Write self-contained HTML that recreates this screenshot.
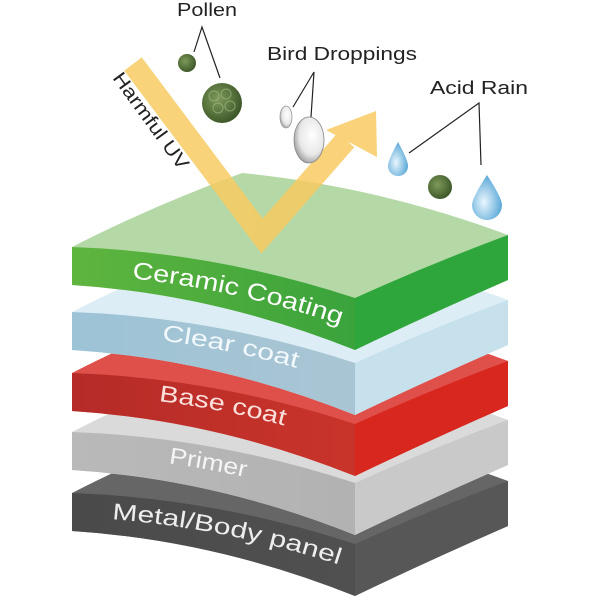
<!DOCTYPE html>
<html><head><meta charset="utf-8"><style>
html,body{margin:0;padding:0;background:#fff;width:600px;height:600px;overflow:hidden}
svg{display:block}
text{font-family:"Liberation Sans",sans-serif}
</style></head><body>
<svg width="600" height="600" viewBox="0 0 600 600" xmlns="http://www.w3.org/2000/svg">
<defs>
<linearGradient id="gF" x1="0" x2="1"><stop offset="0" stop-color="#5fb53e"/><stop offset="1" stop-color="#3aa33c"/></linearGradient>
<linearGradient id="cF" x1="0" x2="1"><stop offset="0" stop-color="#9dc3d6"/><stop offset="1" stop-color="#a9c5d3"/></linearGradient>
<linearGradient id="rF" x1="0" x2="1"><stop offset="0" stop-color="#b52b28"/><stop offset="1" stop-color="#c9342a"/></linearGradient>
<linearGradient id="pF" x1="0" x2="1"><stop offset="0" stop-color="#b9b9b9"/><stop offset="1" stop-color="#b2b2b2"/></linearGradient>
<linearGradient id="mF" x1="0" x2="1"><stop offset="0" stop-color="#4a4a4a"/><stop offset="1" stop-color="#505050"/></linearGradient>
<radialGradient id="pol" cx="0.4" cy="0.4" r="0.6"><stop offset="0" stop-color="#7f9a5a"/><stop offset="1" stop-color="#3f5a2a"/></radialGradient>
<radialGradient id="drop" cx="0.4" cy="0.6" r="0.6"><stop offset="0" stop-color="#eaf6fd"/><stop offset="1" stop-color="#5aa8d8"/></radialGradient>
<radialGradient id="egg" cx="0.6" cy="0.4" r="0.7"><stop offset="0" stop-color="#ffffff"/><stop offset="0.6" stop-color="#e8e8e8"/><stop offset="1" stop-color="#8a8a8a"/></radialGradient>
</defs>

<!-- layers drawn bottom first -->
<!-- Metal L=493 -->
<g>
<path d="M72,493 Q150,453 242,419 Q380,433 508,481 L508,526 Q430,560 355,596 Q215,540 72,531 Z" fill="#666"/>
<path d="M72,493 Q215,498 355,544 L355,596 Q215,540 72,531 Z" fill="url(#mF)"/>
<path d="M355,544 Q430,510 508,481 L508,526 Q430,560 355,596 Z" fill="#575757"/>
</g>
<!-- Primer L=432 -->
<g>
<path d="M72,432 Q150,392 242,358 Q380,372 508,420 L508,465 Q430,499 355,535 Q215,479 72,470 Z" fill="#dadada"/>
<path d="M72,432 Q215,437 355,483 L355,535 Q215,479 72,470 Z" fill="url(#pF)"/>
<path d="M355,483 Q430,449 508,420 L508,465 Q430,499 355,535 Z" fill="#c9c9c9"/>
</g>
<!-- Base L=373 -->
<g>
<path d="M72,373 Q150,333 242,299 Q380,313 508,361 L508,406 Q430,440 355,476 Q215,420 72,411 Z" fill="#e0504b"/>
<path d="M72,373 Q215,378 355,424 L355,476 Q215,420 72,411 Z" fill="url(#rF)"/>
<path d="M355,424 Q430,390 508,361 L508,406 Q430,440 355,476 Z" fill="#d8271e"/>
</g>
<!-- Clear L=312 -->
<g>
<path d="M72,312 Q150,272 242,238 Q380,252 508,300 L508,345 Q430,379 355,415 Q215,359 72,350 Z" fill="#dcedf5"/>
<path d="M72,312 Q215,317 355,363 L355,415 Q215,359 72,350 Z" fill="url(#cF)"/>
<path d="M355,363 Q430,329 508,300 L508,345 Q430,379 355,415 Z" fill="#c6e0ec"/>
</g>
<!-- Green L=247 -->
<g>
<path d="M72,247 Q150,207 242,173 Q380,187 508,235 L508,280 Q430,314 355,350 Q215,294 72,285 Z" fill="#b4d8a6"/>
<path d="M72,247 Q215,252 355,298 L355,350 Q215,294 72,285 Z" fill="url(#gF)"/>
<path d="M355,298 Q430,264 508,235 L508,280 Q430,314 355,350 Z" fill="#2fa63b"/>
</g>

<!-- UV arrow -->
<g opacity="0.85" fill="#f8cb63">
<polyline points="133,64 262,236 346,140" fill="none" stroke="#f8cb63" stroke-width="22" stroke-linejoin="miter"/>
<polygon points="326,130 376,111 377,157"/>
</g>

<!-- layer texts -->
<g fill="#fff">
<path id="t1" d="M72,274 Q215,280 355,330" fill="none"/>
<text font-size="24"><textPath href="#t1" startOffset="60" textLength="214" lengthAdjust="spacingAndGlyphs">Ceramic Coating</textPath></text>
<path id="t2" d="M72,333 Q215,338 355,386" fill="none"/>
<text font-size="23" fill="#f2f8fb"><textPath href="#t2" startOffset="90" textLength="138" lengthAdjust="spacingAndGlyphs">Clear coat</textPath></text>
<path id="t3" d="M72,394 Q215,399 355,447" fill="none"/>
<text font-size="23" fill="#fbe0dc"><textPath href="#t3" startOffset="87" textLength="128" lengthAdjust="spacingAndGlyphs">Base coat</textPath></text>
<path id="t4" d="M72,455 Q215,460 355,508" fill="none"/>
<text font-size="23" fill="#f5f5f5"><textPath href="#t4" startOffset="97" textLength="78" lengthAdjust="spacingAndGlyphs">Primer</textPath></text>
<path id="t5" d="M72,517 Q215,522 355,570" fill="none"/>
<text font-size="23" fill="#eee"><textPath href="#t5" startOffset="40" textLength="232" lengthAdjust="spacingAndGlyphs">Metal/Body panel</textPath></text>
</g>

<!-- labels -->
<g font-size="18" fill="#222">
<text x="177" y="16" textLength="60" lengthAdjust="spacingAndGlyphs">Pollen</text>
<text x="267" y="60" textLength="150" lengthAdjust="spacingAndGlyphs">Bird Droppings</text>
<text x="430" y="94" textLength="98" lengthAdjust="spacingAndGlyphs">Acid Rain</text>
<text x="0" y="0" font-size="19" textLength="115" lengthAdjust="spacingAndGlyphs" transform="translate(112,78) rotate(54)">Harmful UV</text>
</g>
<g stroke="#222" stroke-width="1.2" fill="none">
<polyline points="194,52 202,27 220,78"/>
<polyline points="293,107 314,72 311,117"/>
<polyline points="409,153 479,103 481,165"/>
</g>

<!-- pollen -->
<circle cx="187" cy="63" r="9" fill="url(#pol)"/>
<circle cx="222" cy="103" r="20" fill="url(#pol)"/>
<g stroke="#9fb784" stroke-width="1" fill="none" opacity="0.7">
<circle cx="214" cy="96" r="5"/><circle cx="226" cy="94" r="5"/><circle cx="218" cy="108" r="5"/><circle cx="230" cy="106" r="5"/>
</g>
<circle cx="440" cy="187" r="12" fill="url(#pol)"/>
<!-- droppings -->
<ellipse cx="286" cy="117" rx="6" ry="11" fill="url(#egg)" stroke="#999" stroke-width="0.8"/>
<ellipse cx="309" cy="140" rx="15" ry="23" fill="url(#egg)" stroke="#888" stroke-width="0.8"/>
<!-- drops -->
<path d="M398,142 Q388,160 388,166 A10,10 0 0 0 408,166 Q408,160 398,142 Z" fill="url(#drop)"/>
<path d="M487,175 Q472,198 472,205 A15,15 0 0 0 502,205 Q502,198 487,175 Z" fill="url(#drop)"/>
</svg>
</body></html>
